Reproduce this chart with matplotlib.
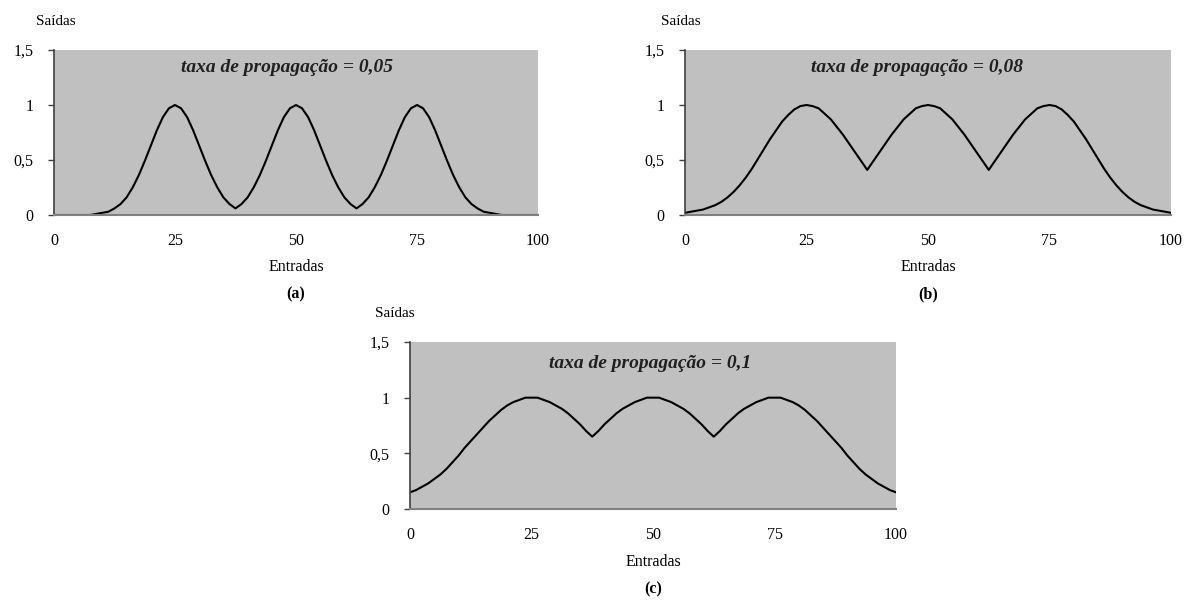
import matplotlib
matplotlib.use('Agg')
import matplotlib.pyplot as plt
import numpy as np

plt.rcParams['font.family'] = ['Liberation Serif', 'DejaVu Serif']

# inputs (x sampled every 1.25)
entradas = np.arange(0, 100.01, 1.25)

saidas_a = [0, 0, 0, 0, 0, 0, 0, 0.01, 0.02, 0.03, 0.06, 0.10, 0.16, 0.25, 0.36, 0.49, 0.63, 0.77, 0.89, 0.97, 1.00,
            0.97, 0.89, 0.77, 0.63, 0.49, 0.36, 0.25, 0.16, 0.10, 0.06,
            0.10, 0.16, 0.25, 0.36, 0.49, 0.63, 0.77, 0.89, 0.97, 1.00,
            0.97, 0.89, 0.77, 0.63, 0.49, 0.36, 0.25, 0.16, 0.10, 0.06,
            0.10, 0.16, 0.25, 0.36, 0.49, 0.63, 0.77, 0.89, 0.97, 1.00,
            0.97, 0.89, 0.77, 0.63, 0.49, 0.36, 0.25, 0.16, 0.10, 0.06, 0.03, 0.02, 0.01, 0, 0, 0, 0, 0, 0, 0]

saidas_b = [0.02, 0.03, 0.04, 0.05, 0.07, 0.09, 0.12, 0.16, 0.21, 0.27, 0.34, 0.42, 0.51, 0.60, 0.69, 0.77, 0.85, 0.91, 0.96, 0.99, 1.00,
            0.99, 0.97, 0.92, 0.87, 0.80, 0.73, 0.65, 0.57, 0.49, 0.41,
            0.49, 0.57, 0.65, 0.73, 0.80, 0.87, 0.92, 0.97, 0.99, 1.00,
            0.99, 0.97, 0.92, 0.87, 0.80, 0.73, 0.65, 0.57, 0.49, 0.41,
            0.49, 0.57, 0.65, 0.73, 0.80, 0.87, 0.92, 0.97, 0.99, 1.00,
            0.99, 0.96, 0.91, 0.85, 0.77, 0.69, 0.60, 0.51, 0.42, 0.34, 0.27, 0.21, 0.16, 0.12, 0.09, 0.07, 0.05, 0.04, 0.03, 0.02]

saidas_c = [0.15, 0.17, 0.20, 0.23, 0.27, 0.31, 0.36, 0.42, 0.48, 0.55, 0.61, 0.67, 0.73, 0.79, 0.84, 0.89, 0.93, 0.96, 0.98, 1.00, 1.00,
            1.00, 0.98, 0.96, 0.93, 0.90, 0.86, 0.81, 0.76, 0.70, 0.65,
            0.70, 0.76, 0.81, 0.86, 0.90, 0.93, 0.96, 0.98, 1.00, 1.00,
            1.00, 0.98, 0.96, 0.93, 0.90, 0.86, 0.81, 0.76, 0.70, 0.65,
            0.70, 0.76, 0.81, 0.86, 0.90, 0.93, 0.96, 0.98, 1.00, 1.00,
            1.00, 0.98, 0.96, 0.93, 0.89, 0.84, 0.79, 0.73, 0.67, 0.61, 0.55, 0.48, 0.42, 0.36, 0.31, 0.27, 0.23, 0.20, 0.17, 0.15]

titulos = ['taxa de propagação = 0,05', 'taxa de propagação = 0,08', 'taxa de propagação = 0,1']
letras = ['(a)', '(b)', '(c)']
xticks = [0, 25, 50, 75, 100]
yticks = [0, 0.5, 1, 1.5]
yticklabels = ['0', '0,5', '1', '1,5']

W, H = 1184, 602


def box(left, right, top, bottom):
    # pixel box -> figure fraction
    return [left / W, (H - bottom) / H, (right - left) / W, (bottom - top) / H]


def plot_panel(fig, rect, y, titulo, letra, title_pos, saidas_x):
    ax = fig.add_axes(rect)
    ax.set_facecolor('#c0c0c0')
    ax.plot(entradas, y, color='black', lw=1.5)
    ax.set_xlim(0, 100)
    ax.set_ylim(0, 1.5)
    ax.set_xticks(xticks)
    ax.set_yticks(yticks)
    ax.set_yticklabels(yticklabels)
    for s in ['top', 'right']:
        ax.spines[s].set_visible(False)
    ax.spines['left'].set_color('#404040')
    ax.spines['bottom'].set_color('#808080')
    ax.spines['left'].set_linewidth(1.2)
    ax.spines['bottom'].set_linewidth(1.5)
    ax.tick_params(axis='x', length=0, pad=13, labelsize=11.5)
    ax.tick_params(axis='y', length=4, width=1, color='#404040', pad=11, labelsize=11.5)
    ax.text(title_pos[0], title_pos[1], titulo, transform=ax.transAxes, ha='center', va='center',
            fontsize=14, fontweight='bold', fontstyle='italic', color='#202020')
    ax.text(saidas_x, 1.17, 'Saídas', transform=ax.transAxes, ha='center', va='center', fontsize=11)
    ax.text(0.5, -0.315, 'Entradas', transform=ax.transAxes, ha='center', va='center', fontsize=11.5)
    ax.text(0.5, -0.48, letra, transform=ax.transAxes, ha='center', va='center', fontsize=11.5,
            fontweight='bold')
    return ax


def main():
    fig = plt.figure(figsize=(W / 100, H / 100), dpi=100)
    plot_panel(fig, box(54, 538, 50, 215), saidas_a, titulos[0], letras[0], (0.481, 0.893), 0.004)
    plot_panel(fig, box(685, 1171, 50, 215), saidas_b, titulos[1], letras[1], (0.477, 0.893), -0.008)
    plot_panel(fig, box(410, 896, 342, 509), saidas_c, titulos[2], letras[2], (0.494, 0.873), -0.031)
    fig.savefig('out.png', dpi=100, facecolor='white')


if __name__ == '__main__':
    main()
